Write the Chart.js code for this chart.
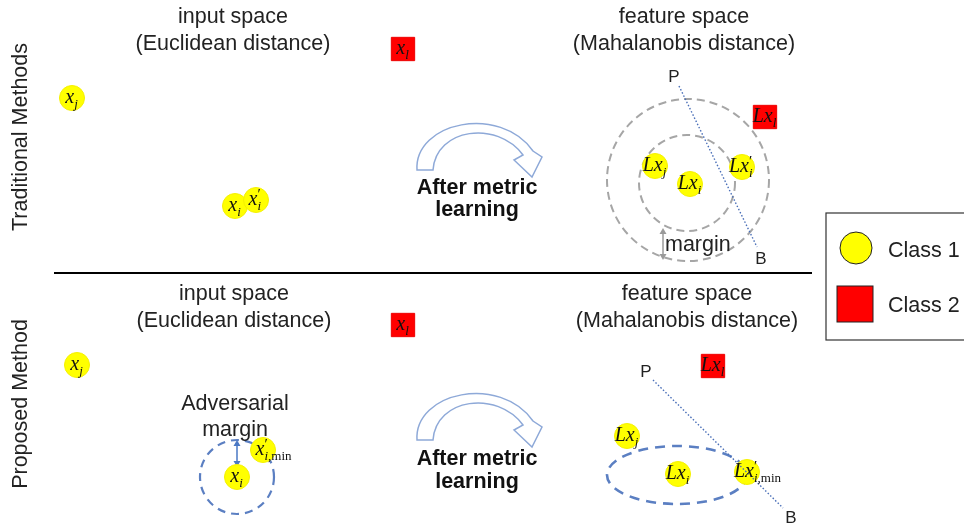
<!DOCTYPE html>
<html>
<head>
<meta charset="utf-8">
<script src="https://cdn.jsdelivr.net/npm/chart.js@4.4.1/dist/chart.umd.min.js"></script>
<style>
html,body{margin:0;padding:0;background:#fff;}
#wrap{width:964px;height:526px;}
</style>
</head>
<body>
<div id="wrap"><canvas id="c" width="964" height="526"></canvas></div>
<script>
// ---- data (diagram coordinates) ----
const class1X = [72, 235, 256, 655, 690, 742, 77, 237, 263, 627, 678, 747];
const class1Y = [98, 206, 200, 166, 184, 167, 365, 477, 450, 436, 474, 472];
const class1Labels = ["x_j", "x_i", "x'_i", "Lx_j", "Lx_i", "Lx'_i", "x_j", "x_i", "x'_i,min", "Lx_j", "Lx_i", "Lx'_i,min"];
const class2X = [403, 765, 403, 713];
const class2Y = [49, 117, 325, 366];
const class2Labels = ["x_l", "Lx_l", "x_l", "Lx_l"];
const ringCX = [688, 687];
const ringCY = [180, 183];
const ringR = [81, 48];
const advCX = [237];
const advCY = [477];
const advR = [37];
const ellCX = [677];
const ellCY = [475];
const ellRX = [70];
const ellRY = [29];
const lineX1 = [679, 653];
const lineY1 = [86, 380];
const lineX2 = [757, 783];
const lineY2 = [247, 508];
const lineStartLabel = ["P", "P"];
const lineEndLabel = ["B", "B"];
const titleTexts = ["input space", "(Euclidean distance)", "feature space", "(Mahalanobis distance)"];
const legendLabels = ["Class 1", "Class 2"];
const rowLabels = ["Traditional Methods", "Proposed Method"];

const SANS = '"Liberation Sans", Arial, sans-serif';
const SERIF = '"Liberation Serif", "Times New Roman", serif';
const FS = '21.5px ';

function drawMath(ctx, label, cx, cy) {
  let base = label, prime = false, sub = '';
  const u = label.indexOf('_');
  if (u >= 0) { base = label.slice(0, u); sub = label.slice(u + 1); }
  if (base.endsWith("'")) { prime = true; base = base.slice(0, -1); }
  const bf = 'italic 20px ' + SERIF, sf = 'italic 13px ' + SERIF, uf = '13px ' + SERIF;
  ctx.font = bf; const bw = ctx.measureText(base).width;
  const subMain = sub.split(',')[0];
  const subRest = sub.indexOf(',') >= 0 ? sub.slice(sub.indexOf(',')) : '';
  ctx.font = sf; const sw = ctx.measureText(subMain).width;
  const total = bw + Math.max(sw, prime ? 5 : 0) + 1;
  let x = cx - total / 2;
  ctx.fillStyle = '#111';
  ctx.textAlign = 'left'; ctx.textBaseline = 'alphabetic';
  ctx.font = bf; ctx.fillText(base, x, cy + 5);
  x += bw + 1;
  if (prime) { ctx.font = '15px ' + SERIF; ctx.fillText('\u2032', x - 1, cy - 1); }
  ctx.font = sf; ctx.fillText(subMain, x - 1, cy + 10);
  if (subRest) { ctx.font = uf; ctx.fillText(subRest, x - 1 + sw, cy + 10); }
}

function curvedArrow(ctx, ox, oy) {
  ctx.save();
  ctx.translate(ox, oy);
  ctx.beginPath();
  ctx.moveTo(417, 170);
  ctx.bezierCurveTo(414, 122, 500, 104, 533, 151);
  ctx.lineTo(542, 157);
  ctx.lineTo(532, 177);
  ctx.lineTo(514, 160);
  ctx.lineTo(523, 155);
  ctx.bezierCurveTo(497, 120, 436, 128, 433, 170);
  ctx.closePath();
  ctx.fillStyle = '#ffffff';
  ctx.fill();
  ctx.strokeStyle = '#8ea9d8';
  ctx.lineWidth = 1.5;
  ctx.stroke();
  ctx.restore();
}

function dblArrow(ctx, x, y1, y2, color) {
  ctx.save();
  ctx.strokeStyle = color; ctx.fillStyle = color; ctx.lineWidth = 1.5;
  ctx.beginPath(); ctx.moveTo(x, y1 + 4); ctx.lineTo(x, y2 - 4); ctx.stroke();
  ctx.beginPath(); ctx.moveTo(x, y1); ctx.lineTo(x - 3.5, y1 + 6); ctx.lineTo(x + 3.5, y1 + 6); ctx.closePath(); ctx.fill();
  ctx.beginPath(); ctx.moveTo(x, y2); ctx.lineTo(x - 3.5, y2 - 6); ctx.lineTo(x + 3.5, y2 - 6); ctx.closePath(); ctx.fill();
  ctx.restore();
}

const decor = {
  id: 'decor',
  beforeDatasetsDraw(chart) {
    const ctx = chart.ctx, xs = chart.scales.x, ys = chart.scales.y;
    const px = v => xs.getPixelForValue(v), py = v => ys.getPixelForValue(v);
    ctx.save();
    // titles
    ctx.fillStyle = '#222'; ctx.textAlign = 'center'; ctx.textBaseline = 'middle';
    ctx.font = FS + SANS;
    [[0, 233, 17], [1, 233, 44], [2, 684, 17], [3, 684, 44], [0, 234, 294], [1, 234, 321], [2, 687, 294], [3, 687, 321]].forEach(t => {
      ctx.fillText(titleTexts[t[0]], px(t[1]), py(t[2]));
    });
    // row labels
    [[rowLabels[0], 137], [rowLabels[1], 404]].forEach(r => {
      ctx.save(); ctx.translate(px(21), py(r[1])); ctx.rotate(-Math.PI / 2);
      ctx.fillText(r[0], 0, 0); ctx.restore();
    });
    // divider
    ctx.strokeStyle = '#000'; ctx.lineWidth = 2;
    ctx.beginPath(); ctx.moveTo(px(54), py(273)); ctx.lineTo(px(812), py(273)); ctx.stroke();
    // curved arrows + text
    curvedArrow(ctx, 0, 0);
    curvedArrow(ctx, 0, 270);
    ctx.fillStyle = '#111'; ctx.font = 'bold ' + FS + SANS;
    ctx.fillText('After metric', px(477), py(188));
    ctx.fillText('learning', px(477), py(210));
    ctx.fillText('After metric', px(477), py(459));
    ctx.fillText('learning', px(477), py(482));
    // grey rings
    ctx.strokeStyle = '#a6a6a6'; ctx.lineWidth = 2; ctx.setLineDash([8, 5]);
    ringR.forEach((r, i) => {
      ctx.beginPath();
      ctx.arc(px(ringCX[i]), py(ringCY[i]), px(ringCX[i] + r) - px(ringCX[i]), 0, Math.PI * 2);
      ctx.stroke();
    });
    // blue adversarial circle and ellipse
    ctx.strokeStyle = '#5b7fc2'; ctx.lineWidth = 2.2; ctx.setLineDash([8, 6]);
    advR.forEach((r, i) => {
      ctx.beginPath();
      ctx.arc(px(advCX[i]), py(advCY[i]), px(advCX[i] + r) - px(advCX[i]), 0, Math.PI * 2);
      ctx.stroke();
    });
    ctx.lineWidth = 2.6; ctx.setLineDash([10, 7]);
    ellRX.forEach((r, i) => {
      ctx.beginPath();
      ctx.ellipse(px(ellCX[i]), py(ellCY[i]), px(ellCX[i] + r) - px(ellCX[i]), py(ellCY[i] + ellRY[i]) - py(ellCY[i]), 0, 0, Math.PI * 2);
      ctx.stroke();
    });
    ctx.setLineDash([]);
    // margin arrows
    dblArrow(ctx, px(663), py(228), py(260), '#9a9a9a');
    dblArrow(ctx, px(237), py(440), py(467), '#4a78c4');
    ctx.fillStyle = '#222'; ctx.font = FS + SANS; ctx.textAlign = 'left';
    ctx.fillText('margin', px(665), py(245));
    ctx.textAlign = 'center';
    ctx.fillText('Adversarial', px(235), py(404));
    ctx.fillText('margin', px(235), py(430));
    // legend box
    ctx.strokeStyle = '#333'; ctx.lineWidth = 1.2;
    ctx.strokeRect(px(826), py(213), 150, 127);
    ctx.beginPath(); ctx.arc(px(856), py(248), 16, 0, Math.PI * 2);
    ctx.fillStyle = '#ffff00'; ctx.fill(); ctx.strokeStyle = '#222'; ctx.lineWidth = 1; ctx.stroke();
    ctx.fillStyle = '#ff0000'; ctx.fillRect(px(837), py(286), 36, 36);
    ctx.strokeRect(px(837), py(286), 36, 36);
    ctx.fillStyle = '#222'; ctx.textAlign = 'left'; ctx.font = FS + SANS;
    ctx.fillText(legendLabels[0], px(888), py(251));
    ctx.fillText(legendLabels[1], px(888), py(306));
    ctx.restore();
  },
  afterDatasetsDraw(chart) {
    const ctx = chart.ctx, xs = chart.scales.x, ys = chart.scales.y;
    const px = v => xs.getPixelForValue(v), py = v => ys.getPixelForValue(v);
    ctx.save();
    // dotted P-B lines
    ctx.strokeStyle = '#4a6fb8'; ctx.lineWidth = 1.4; ctx.setLineDash([1.5, 2]);
    lineX1.forEach((x1, i) => {
      ctx.beginPath(); ctx.moveTo(px(x1), py(lineY1[i])); ctx.lineTo(px(lineX2[i]), py(lineY2[i])); ctx.stroke();
    });
    ctx.setLineDash([]);
    ctx.fillStyle = '#222'; ctx.font = '17px ' + SANS; ctx.textAlign = 'center'; ctx.textBaseline = 'middle';
    ctx.fillText(lineStartLabel[0], px(674), py(77));
    ctx.fillText(lineEndLabel[0], px(761), py(259));
    ctx.fillText(lineStartLabel[1], px(646), py(372));
    ctx.fillText(lineEndLabel[1], px(791), py(518));
    // math labels
    class1Labels.forEach((l, i) => drawMath(ctx, l, px(class1X[i]), py(class1Y[i])));
    class2Labels.forEach((l, i) => drawMath(ctx, l, px(class2X[i]), py(class2Y[i])));
    ctx.restore();
  }
};

new Chart(document.getElementById('c'), {
  type: 'scatter',
  data: {
    datasets: [
      {
        label: legendLabels[0],
        data: class1X.map((x, i) => ({ x: x, y: class1Y[i] })),
        pointStyle: 'circle',
        pointRadius: 12.5,
        backgroundColor: '#ffff00',
        borderColor: '#f4f000',
        borderWidth: 1
      },
      {
        label: legendLabels[1],
        data: class2X.map((x, i) => ({ x: x, y: class2Y[i] })),
        pointStyle: 'rect',
        pointRadius: 16.5,
        backgroundColor: '#ff0000',
        borderColor: '#ee0000',
        borderWidth: 1
      }
    ]
  },
  options: {
    responsive: false,
    animation: false,
    events: [],
    layout: { padding: 0, autoPadding: false },
    plugins: { legend: { display: false }, tooltip: { enabled: false } },
    scales: {
      x: { type: 'linear', min: 0, max: 964, display: false },
      y: { type: 'linear', min: 0, max: 526, reverse: true, display: false }
    }
  },
  plugins: [decor]
});
</script>
</body>
</html>
